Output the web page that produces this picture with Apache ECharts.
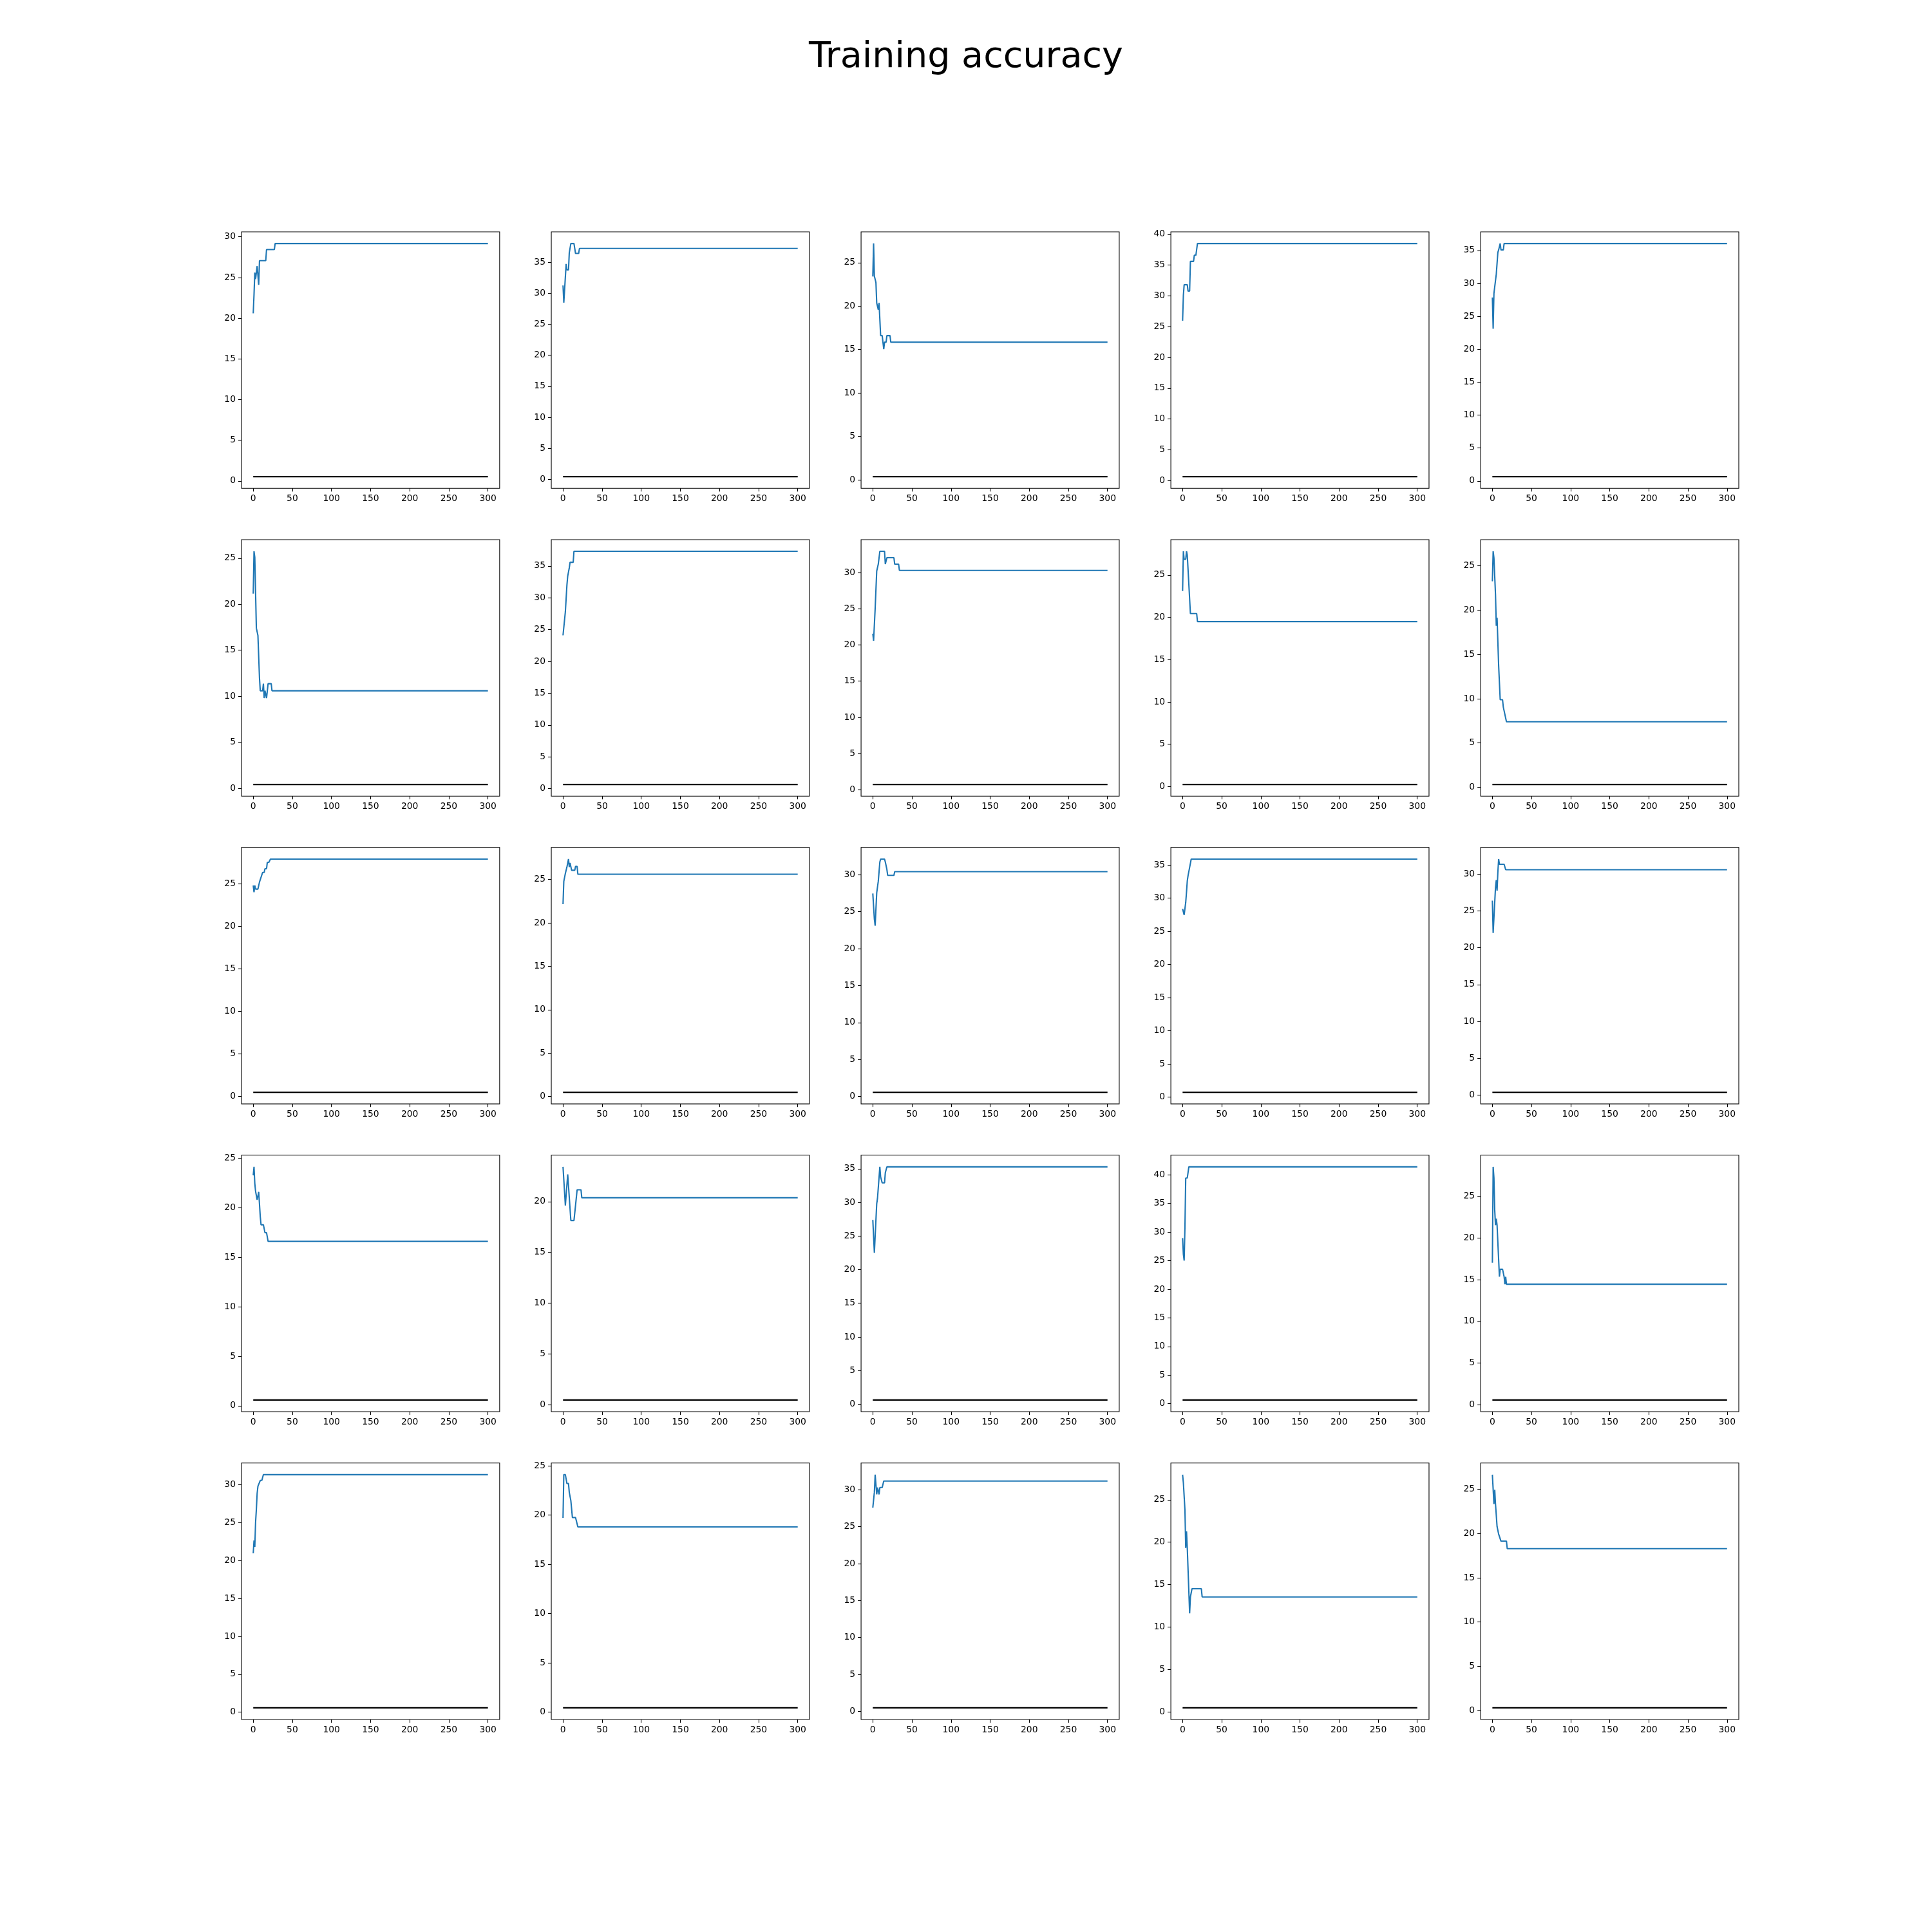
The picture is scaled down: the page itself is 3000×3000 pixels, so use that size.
<!DOCTYPE html>
<html>
<head>
<meta charset="utf-8">
<script src="https://cdn.jsdelivr.net/npm/echarts@6/dist/echarts.min.js"></script>
<style>
  html, body { margin: 0; padding: 0; background: #fff; }
  #chart { width: 3000px; height: 3000px; }
</style>
</head>
<body>
<div id="chart"></div>
<script>
// ---- data: training accuracy per epoch ([epoch, accuracy]) for each of the 25 runs ----
const titleText = 'Training accuracy';
const xTicks = [0, 50, 100, 150, 200, 250, 300];
const yTickStep = 5;

const acc_r0c0 = [[0,20.6],[1,22.9],[2,25.6],[3,24.8],[4,24.9],[5,26.4],[6,26.3],[7,24.1],[8,27.07],[16,27.07],[17,28.44],[27,28.44],[28,29.18],[300,29.18]];
const acc_r0c1 = [[0,31.25],[1,28.47],[2,30.5],[4,34.7],[5,33.75],[7,33.75],[8,36.5],[10,38.0],[14,38.0],[15,37.2],[16,36.4],[20,36.4],[21,37.2],[300,37.2]];
const acc_r0c2 = [[0,23.4],[1,27.2],[2,23.45],[4,22.7],[5,20.36],[6,20.36],[7,19.6],[8,20.36],[10,16.6],[12,16.6],[14,15.05],[15,15.84],[17,15.84],[18,16.6],[22,16.6],[23,15.84],[300,15.84]];
const acc_r0c3 = [[0,25.96],[1,30.07],[2,31.8],[6,31.8],[7,30.77],[9,30.77],[10,35.6],[14,35.6],[15,36.6],[17,36.6],[19,38.5],[300,38.5]];
const acc_r0c4 = [[0,27.84],[1,23.1],[2,28.5],[5,31.4],[7,34.7],[8,35.07],[10,36.05],[11,35.07],[14,35.07],[15,36.05],[300,36.05]];

const acc_r1c0 = [[0,21.15],[1,25.75],[2,25.1],[4,17.4],[6,16.6],[8,11.95],[9,10.6],[12,10.6],[13,11.37],[14,9.8],[15,10.6],[16,10.6],[17,9.8],[19,11.37],[23,11.37],[24,10.6],[300,10.6]];
const acc_r1c1 = [[0,24.1],[1,24.1],[3,27.8],[5,32.0],[6,33.4],[8,34.7],[9,35.57],[13,35.57],[14,37.3],[300,37.3]];
const acc_r1c2 = [[0,21.56],[1,20.58],[3,25.0],[5,30.2],[7,31.15],[9,32.93],[15,32.93],[16,31.15],[18,32.04],[27,32.04],[28,31.15],[33,31.15],[34,30.29],[300,30.29]];
const acc_r1c3 = [[0,23.1],[1,27.8],[2,26.85],[4,26.85],[5,27.8],[6,27.35],[10,20.44],[18,20.44],[19,19.5],[300,19.5]];
const acc_r1c4 = [[0,23.26],[1,26.65],[2,25.9],[4,21.75],[5,18.24],[6,19.14],[8,13.76],[10,9.88],[13,9.88],[14,9.04],[15,9.04],[18,7.39],[300,7.39]];

const acc_r2c0 = [[0,24.8],[1,24.0],[2,24.8],[3,24.37],[6,24.37],[8,25.2],[9,25.2],[12,26.33],[14,26.33],[15,26.76],[17,26.76],[18,27.52],[20,27.52],[22,27.9],[300,27.9]];
const acc_r2c1 = [[0,22.16],[1,24.78],[2,24.78],[3,25.7],[5,26.43],[7,27.35],[8,26.43],[9,26.9],[11,26.06],[15,26.06],[16,26.5],[18,26.5],[19,25.6],[300,25.6]];
const acc_r2c2 = [[0,27.45],[2,23.97],[3,23.1],[5,27.54],[7,29.1],[9,31.7],[10,32.1],[15,32.1],[16,31.7],[18,30.7],[19,29.9],[27,29.9],[28,30.4],[300,30.4]];
const acc_r2c3 = [[0,28.38],[1,28.3],[2,27.47],[4,29.35],[5,30.9],[6,32.58],[7,33.39],[8,33.39],[10,35.23],[11,35.88],[300,35.88]];
const acc_r2c4 = [[0,26.39],[1,22.0],[3,26.16],[4,28.2],[5,29.19],[6,27.76],[7,30.24],[8,32.04],[9,31.34],[15,31.34],[17,30.59],[300,30.59]];

const acc_r3c0 = [[0,23.27],[1,24.13],[2,22.46],[3,21.66],[5,20.8],[7,21.6],[9,19.1],[10,18.28],[13,18.28],[15,17.48],[17,17.48],[19,16.6],[300,16.6]];
const acc_r3c1 = [[0,23.42],[1,23.42],[3,19.62],[6,22.68],[8,20.42],[10,18.14],[14,18.14],[16,19.62],[18,21.16],[23,21.16],[24,20.38],[300,20.38]];
const acc_r3c2 = [[0,27.39],[2,22.5],[5,29.8],[6,30.6],[9,35.28],[10,33.78],[11,33.78],[12,32.9],[15,32.9],[16,34.4],[18,35.28],[300,35.28]];
const acc_r3c3 = [[0,28.94],[1,26.12],[2,25.0],[3,30.8],[4,39.43],[6,39.43],[8,41.38],[300,41.38]];
const acc_r3c4 = [[0,17.03],[1,28.52],[2,27.19],[3,23.33],[4,21.53],[5,22.3],[6,21.53],[9,15.35],[10,16.25],[13,16.25],[15,15.35],[16,14.45],[17,15.35],[18,14.45],[300,14.45]];

const acc_r4c0 = [[0,20.95],[1,22.64],[2,21.8],[3,25.05],[4,26.75],[5,28.87],[6,29.8],[7,29.8],[9,30.57],[11,30.57],[13,31.33],[300,31.33]];
const acc_r4c1 = [[0,19.71],[1,24.1],[3,24.1],[5,23.2],[7,23.2],[8,22.3],[10,21.47],[12,19.75],[16,19.75],[19,18.8],[300,18.8]];
const acc_r4c2 = [[0,27.56],[2,29.65],[3,32.03],[5,29.36],[6,30.29],[8,29.36],[9,30.29],[12,30.29],[14,31.16],[300,31.16]];
const acc_r4c3 = [[0,27.95],[1,27.0],[2,27.0],[3,23.8],[4,19.32],[5,21.29],[6,19.32],[9,11.62],[10,13.56],[12,14.52],[24,14.52],[25,13.56],[300,13.56]];
const acc_r4c4 = [[0,26.65],[2,23.33],[3,24.95],[4,23.33],[5,23.33],[6,20.78],[8,19.94],[9,19.94],[11,19.14],[18,19.14],[19,18.29],[300,18.29]];

// constant reference (black) line level for each run, row by row
const baseline_r0 = [0.53, 0.45, 0.37, 0.63, 0.65];
const baseline_r1 = [0.42, 0.67, 0.74, 0.25, 0.31];
const baseline_r2 = [0.50, 0.49, 0.58, 0.74, 0.38];
const baseline_r3 = [0.58, 0.46, 0.61, 0.64, 0.57];
const baseline_r4 = [0.57, 0.44, 0.49, 0.51, 0.31];
const baselineEpochs = [0, 300];

// ---- assemble ----
const accRows = [
  [acc_r0c0, acc_r0c1, acc_r0c2, acc_r0c3, acc_r0c4],
  [acc_r1c0, acc_r1c1, acc_r1c2, acc_r1c3, acc_r1c4],
  [acc_r2c0, acc_r2c1, acc_r2c2, acc_r2c3, acc_r2c4],
  [acc_r3c0, acc_r3c1, acc_r3c2, acc_r3c3, acc_r3c4],
  [acc_r4c0, acc_r4c1, acc_r4c2, acc_r4c3, acc_r4c4]
];
const baseRows = [baseline_r0, baseline_r1, baseline_r2, baseline_r3, baseline_r4];

// layout (matplotlib default subplot params on a 3000px figure)
const FIG = 3000;
const L = 0.125 * FIG, R = 0.9 * FIG, T = 0.12 * FIG, B = 0.89 * FIG;
const NC = 5, NR = 5, WS = 0.2, HS = 0.2;
const cellW = (R - L) / (NC + (NC - 1) * WS);
const cellH = (B - T) / (NR + (NR - 1) * HS);

const FONT = 'DejaVu Sans';
const grids = [], xAxes = [], yAxes = [], series = [];

for (let r = 0; r < NR; r++) {
  for (let c = 0; c < NC; c++) {
    const idx = r * NC + c;
    const acc = accRows[r][c];
    const base = baseRows[r][c];
    const vals = acc.map(p => p[1]);
    const lo = Math.min(base, ...vals);
    const hi = Math.max(base, ...vals);
    const pad = 0.05 * (hi - lo);
    const ymin = lo - pad, ymax = hi + pad;
    const yTicks = [];
    for (let t = Math.ceil(ymin / yTickStep) * yTickStep; t <= ymax + 1e-9; t += yTickStep) yTicks.push(t);
    const xmin = -0.05 * 300, xmax = 300 + 0.05 * 300;

    grids.push({
      left: L + c * cellW * (1 + WS),
      top: T + r * cellH * (1 + HS),
      width: cellW,
      height: cellH,
      show: true,
      borderColor: '#000',
      borderWidth: 1.1,
      backgroundColor: '#fff',
      containLabel: false
    });
    xAxes.push({
      type: 'value', gridIndex: idx, min: xmin, max: xmax, position: 'bottom',
      axisLine: { show: false, onZero: false },
      splitLine: { show: false },
      axisTick: { show: true, length: 5, inside: false, customValues: xTicks, lineStyle: { color: '#000', width: 1.1 } },
      axisLabel: { show: true, customValues: xTicks, color: '#000', fontSize: 13.9, fontFamily: FONT, margin: 9 }
    });
    yAxes.push({
      type: 'value', gridIndex: idx, min: ymin, max: ymax, position: 'left',
      axisLine: { show: false, onZero: false },
      splitLine: { show: false },
      axisTick: { show: true, length: 5, inside: false, customValues: yTicks, lineStyle: { color: '#000', width: 1.1 } },
      axisLabel: { show: true, customValues: yTicks, color: '#000', fontSize: 13.9, fontFamily: FONT, margin: 9 }
    });
    series.push({
      type: 'line', xAxisIndex: idx, yAxisIndex: idx,
      data: acc, showSymbol: false, symbol: 'none', silent: true,
      lineStyle: { color: '#1f77b4', width: 2.1 }, z: 3
    });
    series.push({
      type: 'line', xAxisIndex: idx, yAxisIndex: idx,
      data: baselineEpochs.map(e => [e, base]), showSymbol: false, symbol: 'none', silent: true,
      lineStyle: { color: '#000', width: 2.2 }, z: 3
    });
  }
}

const chart = echarts.init(document.getElementById('chart'), null, { renderer: 'canvas' });
chart.setOption({
  animation: false,
  backgroundColor: '#fff',
  title: {
    text: titleText, left: 'center', top: 57,
    textStyle: { fontSize: 55.6, fontWeight: 'normal', color: '#000', fontFamily: FONT, lineHeight: 56 }
  },
  grid: grids,
  xAxis: xAxes,
  yAxis: yAxes,
  series: series
});
</script>
</body>
</html>
